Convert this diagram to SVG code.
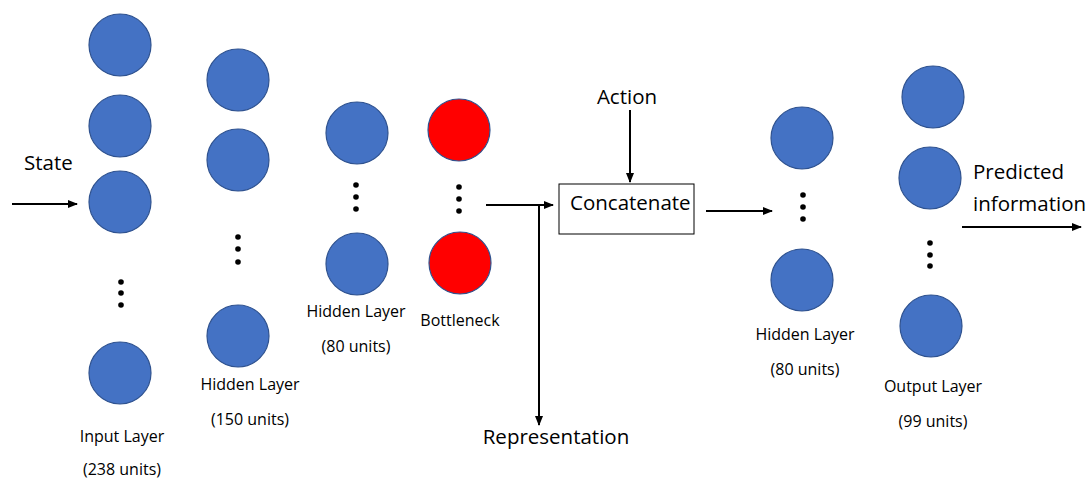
<svg xmlns="http://www.w3.org/2000/svg" width="1088" height="479" viewBox="0 0 1088 479">
  <defs>
    <marker id="arrow" viewBox="0 0 10 10" refX="9" refY="5" markerWidth="5" markerHeight="5" orient="auto" markerUnits="strokeWidth">
      <path d="M0,1 L10,5 L0,9 z" fill="#000"/>
    </marker>
    <style>
      .unit { fill: #4472C4; stroke: #2F528F; stroke-width: 1.2; }
      .bneck { fill: #FF0000; stroke: #2F528F; stroke-width: 1.2; }
      .dot { fill: #000; }
      .lbl { font-family: "Open Sans", "Liberation Sans", sans-serif; font-size: 16px; fill: #000; text-anchor: middle; }
      .big { font-family: "Open Sans", "Liberation Sans", sans-serif; font-size: 20.5px; fill: #000; }
      .wire { stroke: #000; stroke-width: 2; fill: none; }
    </style>
  </defs>
  <rect width="1088" height="479" fill="#fff"/>

  <!-- input layer -->
  <g id="input-layer">
    <circle class="unit" cx="120" cy="45" r="31"/>
    <circle class="unit" cx="120" cy="126" r="31"/>
    <circle class="unit" cx="120" cy="202" r="31"/>
    <circle class="dot" cx="121" cy="282" r="2.8"/>
    <circle class="dot" cx="121" cy="293" r="2.8"/>
    <circle class="dot" cx="121" cy="305" r="2.8"/>
    <circle class="unit" cx="120" cy="373" r="31"/>
    <text class="lbl" x="122" y="442">Input Layer</text>
    <text class="lbl" x="122" y="475">(238 units)</text>
  </g>

  <!-- hidden layer, 150 units -->
  <g id="hidden-150">
    <circle class="unit" cx="238" cy="80" r="31"/>
    <circle class="unit" cx="238" cy="160" r="31"/>
    <circle class="dot" cx="238" cy="237" r="2.8"/>
    <circle class="dot" cx="238" cy="249" r="2.8"/>
    <circle class="dot" cx="238" cy="262" r="2.8"/>
    <circle class="unit" cx="238" cy="336" r="31"/>
    <text class="lbl" x="250" y="390">Hidden Layer</text>
    <text class="lbl" x="250" y="425">(150 units)</text>
  </g>

  <!-- hidden layer, 80 units -->
  <g id="hidden-80a">
    <circle class="unit" cx="357" cy="133" r="31"/>
    <circle class="dot" cx="356" cy="185" r="2.8"/>
    <circle class="dot" cx="356" cy="197" r="2.8"/>
    <circle class="dot" cx="356" cy="209" r="2.8"/>
    <circle class="unit" cx="357" cy="264" r="31"/>
    <text class="lbl" x="356" y="317">Hidden Layer</text>
    <text class="lbl" x="356" y="352">(80 units)</text>
  </g>

  <!-- bottleneck -->
  <g id="bottleneck">
    <circle class="bneck" cx="459" cy="130" r="31"/>
    <circle class="dot" cx="459" cy="187" r="2.8"/>
    <circle class="dot" cx="459" cy="199" r="2.8"/>
    <circle class="dot" cx="459" cy="211" r="2.8"/>
    <circle class="bneck" cx="460" cy="263" r="31"/>
    <text class="lbl" x="460" y="326">Bottleneck</text>
  </g>

  <!-- concatenate -->
  <g id="concatenate">
    <rect x="559" y="184" width="135" height="50" fill="#fff" stroke="#000" stroke-width="1"/>
    <text class="big" x="570" y="210" font-size="18">Concatenate</text>
  </g>

  <!-- hidden layer after concatenation -->
  <g id="hidden-80b">
    <circle class="unit" cx="802" cy="138" r="31"/>
    <circle class="dot" cx="803" cy="195" r="2.8"/>
    <circle class="dot" cx="803" cy="207" r="2.8"/>
    <circle class="dot" cx="803" cy="219" r="2.8"/>
    <circle class="unit" cx="802" cy="280" r="31"/>
    <text class="lbl" x="805" y="340">Hidden Layer</text>
    <text class="lbl" x="805" y="375">(80 units)</text>
  </g>

  <!-- output layer -->
  <g id="output-layer">
    <circle class="unit" cx="933" cy="97" r="31"/>
    <circle class="unit" cx="930" cy="178" r="31"/>
    <circle class="dot" cx="930" cy="243" r="2.8"/>
    <circle class="dot" cx="930" cy="255" r="2.8"/>
    <circle class="dot" cx="930" cy="266" r="2.8"/>
    <circle class="unit" cx="931" cy="326" r="31"/>
    <text class="lbl" x="933" y="392">Output Layer</text>
    <text class="lbl" x="933" y="427">(99 units)</text>
  </g>

  <!-- free labels -->
  <g id="labels">
    <text class="big" x="24" y="170">State</text>
    <text class="big" x="627" y="104" text-anchor="middle">Action</text>
    <text class="big" x="556" y="444" text-anchor="middle">Representation</text>
    <text class="big" x="973" y="179">Predicted</text>
    <text class="big" x="973" y="211">information</text>
  </g>

  <!-- connectors -->
  <g id="connectors">
    <line class="wire" x1="12" y1="204" x2="77" y2="204" marker-end="url(#arrow)"/>
    <line class="wire" x1="486" y1="205" x2="553" y2="205" marker-end="url(#arrow)"/>
    <line class="wire" x1="539" y1="205" x2="539" y2="425" marker-end="url(#arrow)"/>
    <line class="wire" x1="630" y1="110" x2="630" y2="182" marker-end="url(#arrow)"/>
    <line class="wire" x1="706" y1="211" x2="772" y2="211" marker-end="url(#arrow)"/>
    <line class="wire" x1="962" y1="227" x2="1081" y2="227" marker-end="url(#arrow)"/>
  </g>
</svg>
